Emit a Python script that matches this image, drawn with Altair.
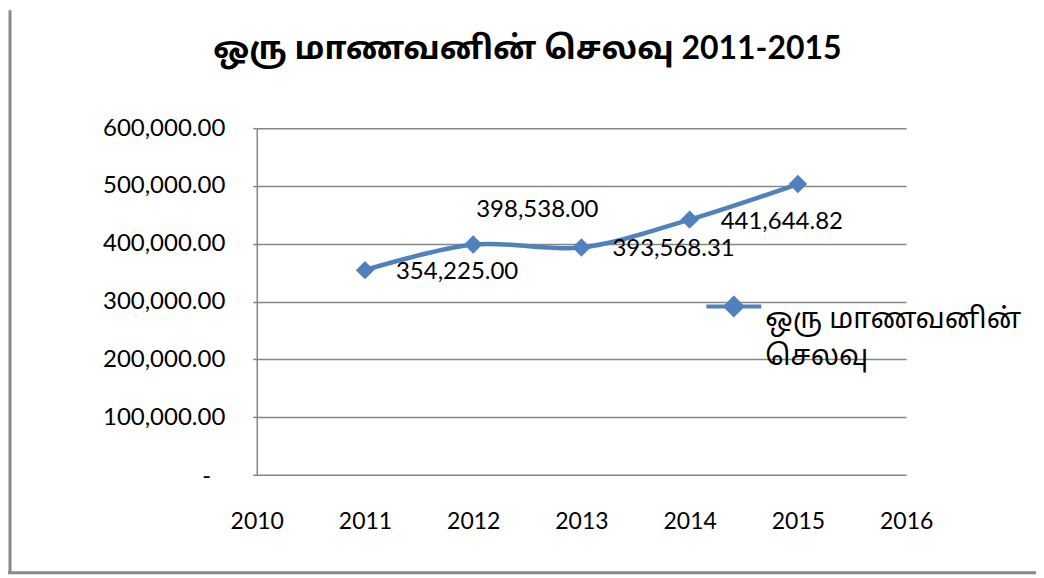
import altair as alt
import pandas as pd

years = [2011, 2012, 2013, 2014, 2015]
values = [354225.00, 398538.00, 393568.31, 441644.82, 503300.00]
series_name = "ஒரு மாணவனின் செலவு"
title_text = "ஒரு மாணவனின் செலவு 2011-2015"
x_ticks = [2010, 2011, 2012, 2013, 2014, 2015, 2016]
y_ticks = [0, 100000, 200000, 300000, 400000, 500000, 600000]

df = pd.DataFrame({"year": years, "value": values, "series": [series_name] * len(years)})

FONT = "Lato, 'Noto Sans Tamil', Latha, 'Noto Sans', sans-serif"
BLUE = "#4F81BD"
GRID = "#868686"

x_enc = alt.X("year:Q", scale=alt.Scale(domain=[2010, 2016], nice=False, zero=False),
              axis=alt.Axis(values=x_ticks, format="d", title=None, grid=False, domain=False,
                            ticks=False, labelPadding=36, labelFontSize=23, labelFont=FONT,
                            labelColor="#000000", labelFlush=False))
y_enc = alt.Y("value:Q", scale=alt.Scale(domain=[0, 600000], nice=False),
              axis=alt.Axis(values=y_ticks, title=None, grid=True, gridColor=GRID, gridWidth=1.5,
                            domainColor=GRID, domainWidth=1.5, tickColor=GRID, tickSize=4,
                            tickWidth=1.5, labelPadding=28, labelFontSize=24, labelFont=FONT,
                            labelColor="#000000",
                            labelExpr="datum.value == 0 ? '' : format(datum.value, ',.2f')"))

base = alt.Chart(df)

line = base.mark_line(interpolate="catmull-rom", strokeWidth=4.5).encode(
    x=x_enc, y=y_enc,
    color=alt.Color("series:N", scale=alt.Scale(range=[BLUE]),
                    legend=alt.Legend(title=None, orient="none", legendX=448, legendY=149,
                                      padding=0, symbolType="M-1,0L1,0M0,-0.3L0.3,0L0,0.3L-0.3,0Z",
                                      symbolSize=3025, symbolStrokeWidth=4,
                                      symbolFillColor=BLUE, symbolStrokeColor=BLUE,
                                      labelOffset=2, labelFontSize=28, labelFont=FONT,
                                      labelColor="#000000", labelBaseline="top", labelLimit=400,
                                      labelExpr="[slice(datum.label, 0, lastindexof(datum.label, ' ')), slice(datum.label, lastindexof(datum.label, ' ') + 1)]"))
)

points = base.mark_point(shape="diamond", filled=True, size=340, opacity=1, color=BLUE).encode(
    x="year:Q", y="value:Q"
)

labels_right = base.transform_filter(
    alt.FieldOneOfPredicate(field="year", oneOf=[2011, 2013, 2014])
).mark_text(align="left", baseline="middle", dx=31, dy=2, fontSize=24, font=FONT, color="#000000").encode(
    x="year:Q", y="value:Q", text=alt.Text("value:Q", format=",.2f")
)

labels_above = base.transform_filter(
    alt.FieldOneOfPredicate(field="year", oneOf=[2012])
).mark_text(align="left", baseline="middle", dx=3, dy=-35, fontSize=24, font=FONT, color="#000000").encode(
    x="year:Q", y="value:Q", text=alt.Text("value:Q", format=",.2f")
)

# zero label of the value axis, shown as a dash (accounting style)
zero_label = alt.Chart(pd.DataFrame({"v": [0]})).mark_text(
    align="center", baseline="middle", dy=2, fontSize=24, font=FONT, color="#000000"
).encode(y=alt.Y("v:Q"), x=alt.value(-50), text=alt.value("-"))

frame_df = pd.DataFrame({"k": [0]})
frame_left = alt.Chart(frame_df).mark_rule(color="#898989", strokeWidth=3).encode(
    x=alt.value(-247), y=alt.value(-118), y2=alt.value(446)
)
frame_bottom = alt.Chart(frame_df).mark_rule(color="#898989", strokeWidth=3).encode(
    x=alt.value(-249), x2=alt.value(790), y=alt.value(445)
)

chart = alt.layer(frame_left, frame_bottom, line, points, labels_right, labels_above, zero_label).properties(
    width=650, height=347,
    autosize=alt.AutoSizeParams(type="none"),
    padding={"left": 249, "top": 120, "right": 130, "bottom": 100},
    title=alt.TitleParams(title_text, anchor="middle", dx=-54, offset=-89, baseline="bottom",
                          fontSize=32, font=FONT, fontWeight="bold", color="#000000"),
).configure(
    background="white",
    view=alt.ViewConfig(stroke=None),
    style={"guide-label": {"lineHeight": 37}},
)

chart.save("out.html", embed_options={"renderer": "svg", "actions": False})
